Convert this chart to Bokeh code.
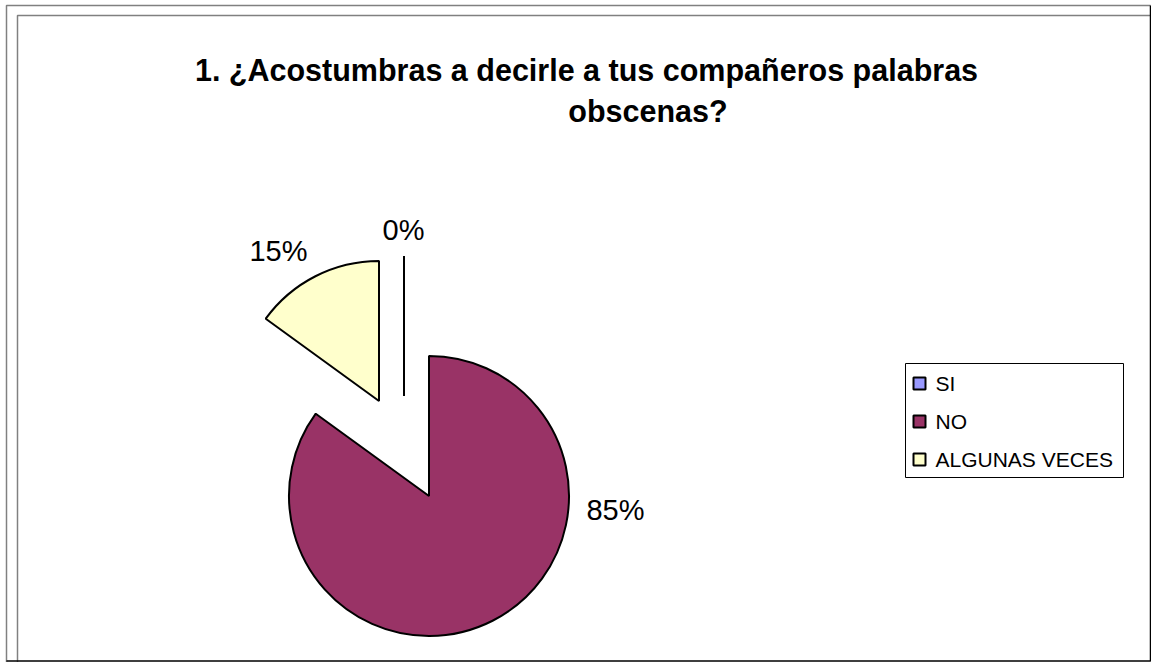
import math
from bokeh.plotting import figure
from bokeh.models import Range1d
from bokeh.core.properties import value
from bokeh.embed import file_html
from bokeh.resources import INLINE

# ---- data ----
categories = ["SI", "NO", "ALGUNAS VECES"]
values = [0, 85, 15]
pct_labels = ["0%", "85%", "15%"]
colors = ["#9999FF", "#993366", "#FFFFCC"]
title_lines = ["1. ¿Acostumbras a decirle a tus compañeros palabras", "obscenas?"]

# ---- style / layout (picture pixel coords, y down) ----
W, H = 1151, 662
FONT = "Liberation Sans"
CX, CY, R = 428.5, 495.5, 140
explode = [(-25, -100), (0, 0), (-50, -95)]          # per-slice centre offsets
label_pos = [(403, 229), (615, 509), (278, 250)]     # label vertical centres
title_pos = [(586, 69), (647.5, 110)]                # title line centres


def Y(y):
    return H - y


p = figure(width=W, height=H, x_range=Range1d(0, W), y_range=Range1d(0, H),
           output_backend="svg", toolbar_location=None, min_border=0)
p.axis.visible = False
p.grid.visible = False
p.outline_line_color = None
p.background_fill_color = "white"

# frame lines
p.line([6, 6, 1150], [Y(662), Y(5), Y(5)], line_color="#808080", line_width=1.5)
p.line([17, 17, 1151], [Y(662), Y(15), Y(15)], line_color="#808080", line_width=1.5)
p.line([6, 1150, 1150], [Y(660.5), Y(660.5), Y(5)], line_color="black", line_width=1.5)

# pie
total = float(sum(values))
cum = 0.0
for i, v in enumerate(values):
    a0 = math.pi / 2 - 2 * math.pi * cum / total
    cum += v
    a1 = math.pi / 2 - 2 * math.pi * cum / total
    cx = CX + explode[i][0]
    cy = Y(CY + explode[i][1])
    if v > 0:
        p.wedge(x=[cx], y=[cy], radius=R, start_angle=[a0], end_angle=[a1],
                direction="clock", fill_color=colors[i], line_color="black",
                line_width=2)
    else:
        p.segment(x0=[cx], y0=[cy], x1=[cx + R * math.cos(a0)], y1=[cy + R * math.sin(a0)],
                  line_color="black", line_width=2)

# percentage labels
p.text(x=[lp[0] for lp in label_pos], y=[Y(lp[1]) for lp in label_pos], text=pct_labels,
       text_font=value(FONT), text_font_size="29px", text_align="center",
       text_baseline="middle", text_color="black")

# title
for (tx, ty), t in zip(title_pos, title_lines):
    p.text(x=[tx], y=[Y(ty)], text=[t], text_font=value(FONT), text_font_size="30.5px",
           text_font_style="bold", text_align="center", text_baseline="middle",
           text_color="black")

# legend
p.quad(left=[905], right=[1123], top=[Y(363)], bottom=[Y(477)], fill_color="white",
       line_color="black", line_width=1)
for i, c in enumerate(categories):
    yc = 383 + 38 * i
    p.quad(left=[913], right=[925], top=[Y(yc - 6)], bottom=[Y(yc + 6)],
           fill_color=colors[i], line_color="black", line_width=2)
    p.text(x=[935], y=[Y(yc)], text=[c], text_font=value(FONT), text_font_size="21px",
           text_align="left", text_baseline="middle", text_color="black")

open("out.html", "w").write(file_html(p, INLINE))
